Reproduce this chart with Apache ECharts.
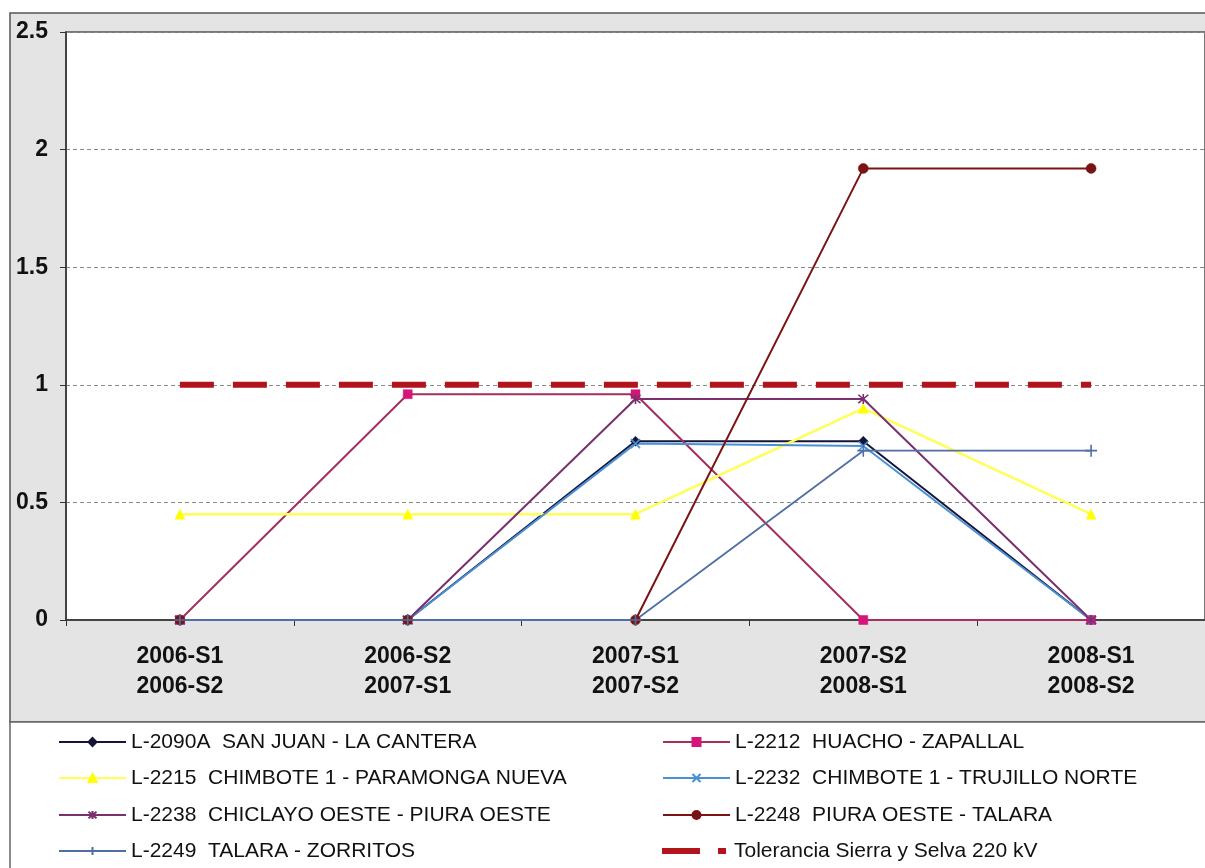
<!DOCTYPE html>
<html>
<head>
<meta charset="utf-8">
<script src="https://cdn.jsdelivr.net/npm/echarts@6/dist/echarts.min.js"></script>
<style>
  html, body { margin: 0; padding: 0; background: #ffffff; }
  #chart { width: 1205px; height: 868px; }
</style>
</head>
<body>
<div id="chart"></div>
<script>
// ---- data ----
const categories = ["2006-S1\n2006-S2", "2006-S2\n2007-S1", "2007-S1\n2007-S2", "2007-S2\n2008-S1", "2008-S1\n2008-S2"];
const yTicks = [0, 0.5, 1, 1.5, 2, 2.5];

const names = [
  "L-2090A  SAN JUAN - LA CANTERA",
  "L-2212  HUACHO - ZAPALLAL",
  "L-2215  CHIMBOTE 1 - PARAMONGA NUEVA",
  "L-2232  CHIMBOTE 1 - TRUJILLO NORTE",
  "L-2238  CHICLAYO OESTE - PIURA OESTE",
  "L-2248  PIURA OESTE - TALARA",
  "L-2249  TALARA - ZORRITOS",
  "Tolerancia Sierra y Selva 220 kV"
];

const l2090A = [0, 0, 0.76, 0.76, 0];
const l2212  = [0, 0.96, 0.96, 0, 0];
const l2215  = [0.45, 0.45, 0.45, 0.90, 0.45];
const l2232  = [0, 0, 0.75, 0.74, 0];
const l2238  = [0, 0, 0.94, 0.94, 0];
const l2248  = [0, 0, 0, 1.92, 1.92];
const l2249  = [0, 0, 0, 0.72, 0.72];
const tolerancia = [1, 1, 1, 1, 1];

// ---- styles ----
const FONT = "Arial, 'Liberation Sans', sans-serif";
const symX = 'path://M0,0L10,10M10,0L0,10';
const symStar = 'path://M0,0L10,10M10,0L0,10M5,-1L5,11';
const symPlus = 'path://M5,0L5,10M0,5L10,5';
const tolIcon = 'path://M0,0M67,10M0,2H38V8H0Z M56,2H64V8H56Z';

function lineSeries(name, data, color, markColor, symbol, size, width, strokeSym) {
  return {
    name: name,
    type: 'line',
    data: data,
    symbol: symbol,
    symbolSize: size,
    showSymbol: true,
    lineStyle: { color: color, width: width },
    itemStyle: strokeSym
      ? { color: markColor, borderColor: markColor, borderWidth: 1.6 }
      : { color: markColor, borderColor: markColor, borderWidth: 0.5 },
    emphasis: { disabled: true },
    animation: false
  };
}

// legend layout: two columns, four rows
const legendCols = [58, 662];
const legendRows = [742, 778, 815, 851];
const legends = names.map(function (n, i) {
  const col = i % 2, row = Math.floor(i / 2);
  return {
    orient: 'horizontal',
    left: legendCols[col],
    top: legendRows[row] - 10.5,
    padding: 0,
    itemWidth: 67, itemHeight: 10, itemGap: 0,
    data: [i === 7 ? { name: n, icon: tolIcon } : n],
    textStyle: { fontSize: 21, color: '#111111', fontFamily: FONT },
    selectedMode: false
  };
});

const chart = echarts.init(document.getElementById('chart'), null, { renderer: 'canvas' });

const option = {
  animation: false,
  backgroundColor: '#ffffff',
  textStyle: { fontFamily: FONT },
  graphic: [
    { type: 'rect', z: -10, shape: { x: 10, y: 13, width: 1210, height: 709 },
      style: { fill: '#e4e4e4', stroke: '#555555', lineWidth: 1.5 } },
    { type: 'rect', z: -10, shape: { x: 10, y: 722, width: 1210, height: 160 },
      style: { fill: '#ffffff', stroke: '#666666', lineWidth: 1.5 } }
  ],
  grid: {
    left: 66, top: 32, right: -12, bottom: 248,
    show: true, backgroundColor: '#ffffff', borderColor: '#777777', borderWidth: 2,
    containLabel: false
  },
  xAxis: {
    type: 'category',
    data: categories,
    boundaryGap: true,
    axisLine: { show: true, lineStyle: { color: '#333333', width: 1.5 } },
    axisTick: { show: true, length: 6, inside: false, lineStyle: { color: '#333333', width: 1 } },
    axisLabel: {
      interval: 0, margin: 22, color: '#111111', fontSize: 23, fontWeight: 'bold',
      fontFamily: FONT, lineHeight: 30
    },
    splitLine: { show: false }
  },
  yAxis: {
    type: 'value',
    min: yTicks[0], max: yTicks[yTicks.length - 1], interval: 0.5,
    axisLine: { show: true, lineStyle: { color: '#333333', width: 1.5 } },
    axisTick: { show: true, length: 6, lineStyle: { color: '#333333', width: 1 } },
    axisLabel: {
      margin: 18, color: '#111111', fontSize: 23, fontWeight: 'bold', fontFamily: FONT,
      formatter: function (v) { return String(v); }
    },
    splitLine: { show: true, lineStyle: { color: '#8a8a8a', width: 1, type: [4, 3] } }
  },
  legend: legends,
  series: [
    lineSeries(names[0], l2090A, '#15153a', '#15153a', 'diamond', 10, 2, false),
    lineSeries(names[1], l2212, '#a33060', '#d6157a', 'rect', 9, 2, false),
    lineSeries(names[2], l2215, '#ffff55', '#ffff00', 'triangle', 10, 2.5, false),
    lineSeries(names[3], l2232, '#4a90d4', '#4a90d4', symX, 9, 2, true),
    lineSeries(names[4], l2238, '#7a2f6e', '#7a2f6e', symStar, 10, 2, true),
    lineSeries(names[5], l2248, '#7a1414', '#7a1414', 'circle', 10, 2, false),
    lineSeries(names[6], l2249, '#4f6fa6', '#4f6fa6', symPlus, 12, 1.8, true),
    {
      name: names[7], type: 'line', data: tolerancia, symbol: 'none',
      lineStyle: { color: '#b3141c', width: 6, type: [34, 19] },
      itemStyle: { color: '#b3141c' },
      emphasis: { disabled: true }, animation: false
    }
  ]
};

chart.setOption(option);
</script>
</body>
</html>
